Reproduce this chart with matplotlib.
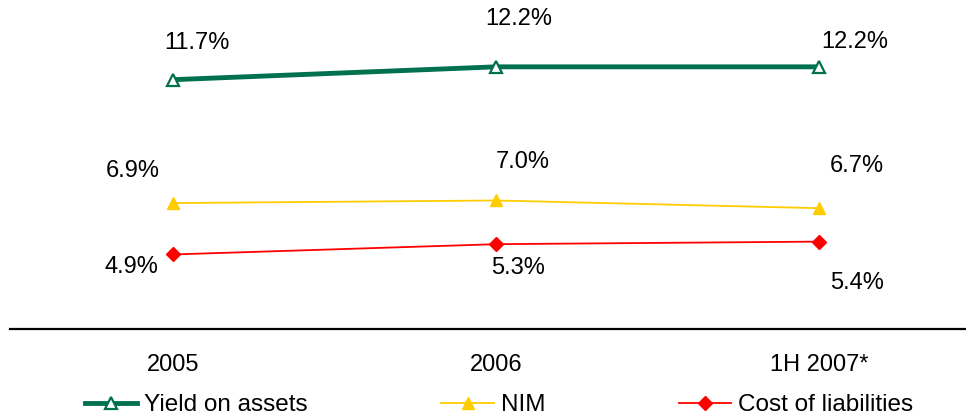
import matplotlib
matplotlib.use("Agg")
import matplotlib.pyplot as plt

plt.rcParams['font.family'] = ['Liberation Sans', 'DejaVu Sans']

categories = ["2005", "2006", "1H 2007*"]
yield_on_assets = [11.7, 12.2, 12.2]
nim = [6.9, 7.0, 6.7]
cost_of_liabilities = [4.9, 5.3, 5.4]

green = "#00704F"
yellow = "#FFCC00"
red = "#FF0000"

W, H = 966, 416
fig = plt.figure(figsize=(W / 100, H / 100), dpi=100)
ax = fig.add_axes([10 / W, (H - 329) / H, (W - 10) / W, 329 / H])

x = list(range(len(categories)))

ax.plot(x, yield_on_assets, color=green, lw=3.5, marker='^', ms=9,
        mfc='white', mec=green, mew=1.6, label="Yield on assets", zorder=3)
ax.plot(x, nim, color=yellow, lw=1.3, marker='^', ms=9,
        mfc=yellow, mec=yellow, label="NIM", zorder=3)
ax.plot(x, cost_of_liabilities, color=red, lw=1.3, marker='D', ms=7,
        mfc=red, mec=red, label="Cost of liabilities", zorder=3)

# value labels, offsets in pixels from each point
offsets = {
    0: [(24, 37), (23, 48), (36, 25)],
    1: [(-40, 32), (27, 38), (38, 42)],
    2: [(-42, -13), (22, -24), (38, -41)],
}
for si, series in enumerate([yield_on_assets, nim, cost_of_liabilities]):
    for i, v in enumerate(series):
        dx, dy = offsets[si][i]
        ax.annotate(f"{v:.1f}%", (x[i], v), xytext=(dx, dy),
                    textcoords='offset pixels', ha='center', va='center',
                    fontsize=17, color='black')

ax.set_xlim(-0.505, 2.455)
ax.set_ylim(2.0, 14.8)
ax.set_xticks(x)
ax.set_xticklabels(categories, fontsize=17)
ax.tick_params(axis='x', length=0, pad=18)
ax.set_yticks([])
for s in ['top', 'right', 'left']:
    ax.spines[s].set_visible(False)
ax.spines['bottom'].set_linewidth(1.6)
ax.spines['bottom'].set_color('black')

fig.legend(loc='center', bbox_to_anchor=(499 / W, 1 - 405 / H), ncol=3,
           frameon=False, fontsize=17.5, handlelength=2.15, handletextpad=0.28,
           columnspacing=5.5, borderpad=0, borderaxespad=0)

fig.savefig("out.png", dpi=100)
